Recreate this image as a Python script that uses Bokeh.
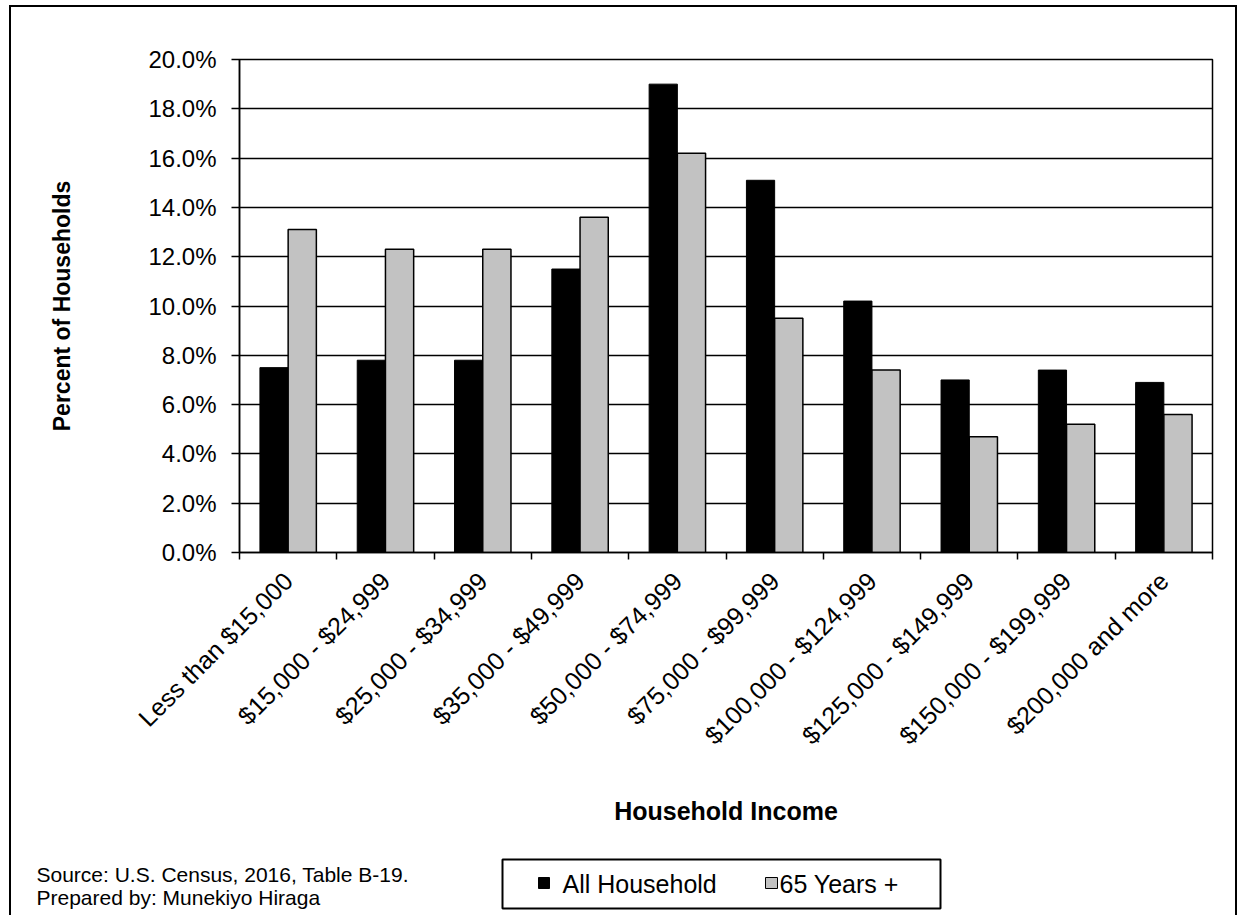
from math import pi

from bokeh.plotting import figure
from bokeh.layouts import column
from bokeh.models import ColumnDataSource, FixedTicker, PrintfTickFormatter, Range1d
from bokeh.core.properties import value
from bokeh.transform import dodge
from bokeh.embed import file_html
from bokeh.resources import INLINE

# Household income brackets and share of households (%) in each
categories = ["Less than $15,000", "$15,000 - $24,999", "$25,000 - $34,999",
              "$35,000 - $49,999", "$50,000 - $74,999", "$75,000 - $99,999",
              "$100,000 - $124,999", "$125,000 - $149,999", "$150,000 - $199,999",
              "$200,000 and more"]
all_households = [7.5, 7.8, 7.8, 11.5, 19.0, 15.1, 10.2, 7.0, 7.4, 6.9]
age_65_plus = [13.1, 12.3, 12.3, 13.6, 16.2, 9.5, 7.4, 4.7, 5.2, 5.6]
y_ticks = [0, 2, 4, 6, 8, 10, 12, 14, 16, 18, 20]
series_names = ["All Household", "65 Years +"]
source_notes = ["Source: U.S. Census, 2016, Table B-19.",
                "Prepared by: Munekiyo Hiraga"]

FONT = "Liberation Sans"
BLACK_FILL = "black"
GREY_FILL = "#c2c2c2"

INNER_W = 1224          # width inside the outer frame
CHART_H = 828
FOOTER_H = 80

pos = [i + 0.5 for i in range(len(categories))]
source = ColumnDataSource(dict(pos=pos, cat=categories,
                               all=all_households, senior=age_65_plus))

p = figure(width=INNER_W, height=CHART_H, output_backend="svg", toolbar_location=None,
           x_range=Range1d(0, len(categories)), y_range=Range1d(0, 20),
           min_border_left=228, min_border_right=23, min_border_top=52,
           min_border_bottom=283, background_fill_color="white",
           border_fill_color="white")
p.outline_line_color = "black"
p.outline_line_width = 1.5

# bars
p.vbar(x=dodge("pos", -0.145), top="all", width=0.29, source=source,
       fill_color=BLACK_FILL, line_color="black", line_width=1)
p.vbar(x=dodge("pos", 0.145), top="senior", width=0.29, source=source,
       fill_color=GREY_FILL, line_color="black", line_width=1.5)

# grid
p.xgrid.visible = False
p.ygrid.ticker = FixedTicker(ticks=y_ticks)
p.ygrid.grid_line_color = "black"
p.ygrid.grid_line_width = 1.5
p.ygrid.level = "underlay"

# y axis
ya = p.yaxis[0]
ya.ticker = FixedTicker(ticks=y_ticks)
ya.formatter = PrintfTickFormatter(format="%.1f%%")
ya.axis_line_color = "black"
ya.axis_line_width = 1.5
ya.major_tick_out = 8
ya.major_tick_in = 0
ya.major_tick_line_width = 1.5
ya.minor_tick_line_color = None
ya.major_label_standoff = 15
ya.major_label_text_font = FONT
ya.major_label_text_font_size = "24px"
ya.major_label_text_color = "black"
ya.axis_label = "Percent of Households"
ya.axis_label_text_font = FONT
ya.axis_label_text_font_style = "bold"
ya.axis_label_text_font_size = "23px"
ya.axis_label_text_color = "black"
ya.axis_label_standoff = 70

# x axis: labels at category centres, ticks on category boundaries
xa = p.xaxis[0]
xa.ticker = FixedTicker(ticks=pos, minor_ticks=list(range(len(categories) + 1)))
xa.major_label_overrides = {x: c for x, c in zip(pos, categories)}
xa.major_label_orientation = pi / 4
xa.axis_line_color = "black"
xa.axis_line_width = 1.5
xa.major_tick_out = 0
xa.major_tick_in = 0
xa.minor_tick_out = 7
xa.minor_tick_in = 0
xa.minor_tick_line_color = "black"
xa.minor_tick_line_width = 1.5
xa.major_label_standoff = 17
xa.major_label_text_font = FONT
xa.major_label_text_font_size = "25px"
xa.major_label_text_color = "black"
xa.axis_label = "Household Income"
xa.axis_label_text_font = FONT
xa.axis_label_text_font_style = "bold"
xa.axis_label_text_font_size = "25px"
xa.axis_label_text_color = "black"
xa.axis_label_standoff = 35

# footer: source notes and legend, laid out in pixel coordinates
f = figure(width=INNER_W, height=FOOTER_H, output_backend="svg", toolbar_location=None,
           x_range=Range1d(0, INNER_W), y_range=Range1d(0, FOOTER_H),
           min_border=0, background_fill_color="white", border_fill_color="white")
f.frame_align = False
f.axis.visible = False
f.grid.visible = False
f.outline_line_color = None

f.text(x=[25, 25], y=[41, 18], text=source_notes, text_font=value(FONT),
       text_font_size="21px", text_color="black", text_baseline="middle")

# legend box with two swatches
f.quad(left=[491], right=[929], bottom=[7], top=[56],
       fill_color="white", line_color="black", line_width=2)
f.quad(left=[527, 754], right=[538, 766], bottom=[27, 27], top=[38, 38],
       fill_color=[BLACK_FILL, GREY_FILL], line_color="black", line_width=1)
f.text(x=[551, 768], y=[32, 32], text=series_names, text_font=value(FONT),
       text_font_size="25px", text_color="black", text_baseline="middle")

layout = column(p, f, spacing=0, margin=(5, 0, 0, 9),
                styles={"border-top": "2px solid black", "border-left": "2px solid black",
                        "border-right": "2px solid black"})

open("out.html", "w").write(file_html(layout, INLINE))
